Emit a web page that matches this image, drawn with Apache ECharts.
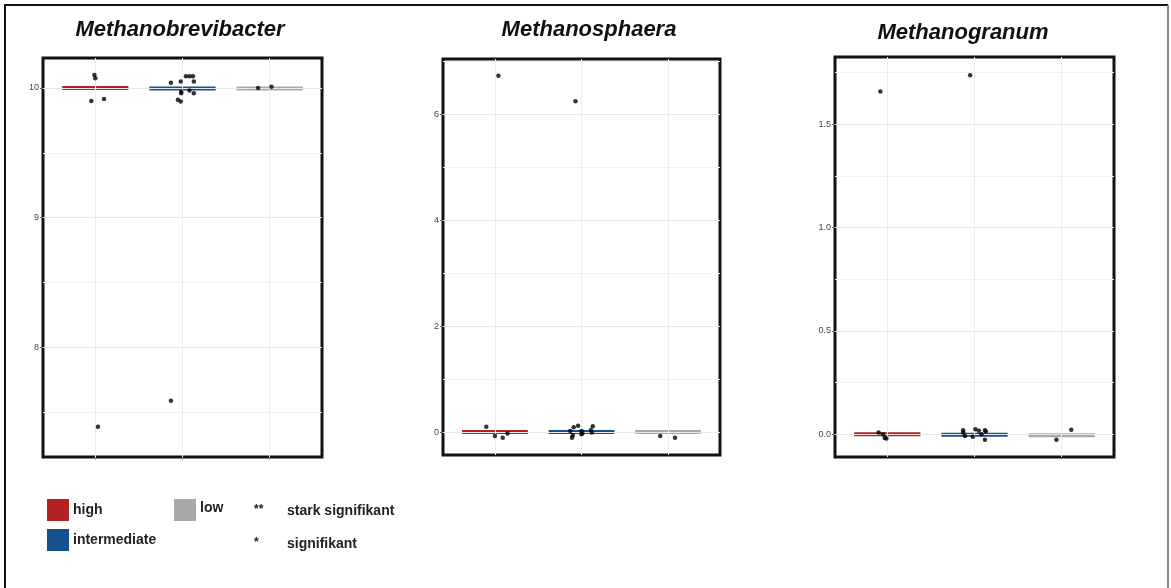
<!DOCTYPE html>
<html>
<head>
<meta charset="utf-8">
<script src="https://cdn.jsdelivr.net/npm/echarts@6/dist/echarts.min.js"></script>
<style>
  html, body { margin: 0; padding: 0; background: #fff; }
  #chart { width: 1171px; height: 588px; }
</style>
</head>
<body>
<div id="chart"></div>
<script>
// Groups and their colours
const groups = ['high', 'intermediate', 'low'];
const groupColors = ['#B22222', '#17508F', '#A9A9A9'];
const genera = ['Methanobrevibacter', 'Methanosphaera', 'Methanogranum'];

// Methanobrevibacter: [jittered group position, value]
const brevibacterHigh = [[0.99, 10.10], [1.0, 10.075], [0.954, 9.90], [1.10, 9.915], [1.03, 7.39]];
const brevibacterIntermediate = [[1.867, 10.04], [1.98, 10.05], [2.04, 10.09], [2.08, 10.09], [2.12, 10.09], [2.13, 10.05],
  [1.985, 9.97], [1.985, 9.96], [2.08, 9.98], [2.13, 9.96], [1.947, 9.91], [1.98, 9.895], [1.867, 7.59]];
const brevibacterLow = [[2.867, 10.0], [3.02, 10.01]];
const brevibacterMedian = [10.0, 9.995, 9.995];
const brevibacterTicks = [8, 9, 10];
const brevibacterMinor = [7.5, 8.5, 9.5];

// Methanosphaera
const sphaeraHigh = [[1.04, 6.73], [0.90, 0.10], [1.0, -0.075], [1.09, -0.11], [1.145, -0.03]];
const sphaeraIntermediate = [[1.93, 6.245], [1.87, 0.02], [1.91, 0.09], [1.96, 0.12], [1.89, -0.11], [1.90, -0.06],
  [2.0, 0.02], [2.01, -0.025], [2.0, -0.04], [2.11, 0.04], [2.13, 0.11], [2.12, -0.01]];
const sphaeraLow = [[2.91, -0.075], [3.08, -0.11]];
const sphaeraMedian = [0, 0, 0];
const sphaeraTicks = [0, 2, 4, 6];
const sphaeraMinor = [1, 3, 5, 7];

// Methanogranum
const granumHigh = [[0.92, 1.659], [0.90, 0.008], [0.95, 0.0], [0.97, -0.018], [0.99, -0.02]];
const granumIntermediate = [[1.95, 1.738], [1.87, 0.02], [1.87, 0.008], [1.89, -0.008], [1.98, -0.012], [2.01, 0.024],
  [2.05, 0.017], [2.08, 0.0], [2.12, 0.02], [2.13, 0.013], [2.12, -0.026]];
const granumLow = [[3.11, 0.022], [2.94, -0.026]];
const granumMedian = [0.0, -0.002, -0.005];
const granumTicks = [0, 0.5, 1.0, 1.5];
const granumMinor = [0.25, 0.75, 1.25, 1.75];

const panels = [
  { title: genera[0], points: [brevibacterHigh, brevibacterIntermediate, brevibacterLow], median: brevibacterMedian,
    ticks: brevibacterTicks, minor: brevibacterMinor, yMin: 7.156, yMax: 10.231, digits: 0,
    box: { left: 43, top: 58, width: 279, height: 399 }, titleX: 180, titleY: 30 },
  { title: genera[1], points: [sphaeraHigh, sphaeraIntermediate, sphaeraLow], median: sphaeraMedian,
    ticks: sphaeraTicks, minor: sphaeraMinor, yMin: -0.434, yMax: 7.044, digits: 0,
    box: { left: 443, top: 59, width: 277, height: 396 }, titleX: 589, titleY: 30 },
  { title: genera[2], points: [granumHigh, granumIntermediate, granumLow], median: granumMedian,
    ticks: granumTicks, minor: granumMinor, yMin: -0.110, yMax: 1.826, digits: 1,
    box: { left: 835, top: 57, width: 279, height: 400 }, titleX: 963, titleY: 33 }
];

const groupPos = [1, 2, 3];
const halfBar = 0.38;

const grid = [], xAxis = [], yAxis = [], series = [], graphic = [];

panels.forEach((p, k) => {
  grid.push(Object.assign({ show: true, borderColor: '#111', borderWidth: 3, backgroundColor: 'transparent' }, p.box));
  xAxis.push({
    gridIndex: k, type: 'value', min: 0.4, max: 3.6,
    axisLine: { show: false },
    axisLabel: { show: false },
    axisTick: { show: true, customValues: groupPos, length: 3, lineStyle: { color: '#999' } },
    splitLine: { show: false }
  });
  yAxis.push({
    gridIndex: k, type: 'value', min: p.yMin, max: p.yMax,
    axisLine: { show: false },
    axisTick: { show: true, customValues: p.ticks, length: 3, lineStyle: { color: '#666' } },
    axisLabel: { show: true, customValues: p.ticks, fontSize: 9, color: '#444', margin: 4,
      fontFamily: 'Liberation Sans, Arial, sans-serif',
      formatter: v => Number(v).toFixed(p.digits) },
    splitLine: { show: false }
  });

  // Panel grid lines (major, minor and one per group)
  const gridLines = []
    .concat(p.minor.filter(v => v > p.yMin && v < p.yMax).map(v => ({ yAxis: v, lineStyle: { color: '#f2f2f2' } })))
    .concat(p.ticks.map(v => ({ yAxis: v, lineStyle: { color: '#e8e8e8' } })))
    .concat(groupPos.map(v => ({ xAxis: v, lineStyle: { color: '#ececec' } })));

  series.push({
    type: 'scatter', xAxisIndex: k, yAxisIndex: k, z: 1, data: [], silent: true, animation: false,
    markLine: { silent: true, symbol: 'none', label: { show: false }, animation: false,
      lineStyle: { type: 'solid', width: 1 }, data: gridLines }
  });

  // Median bars, one short horizontal segment per group
  p.median.forEach((v, i) => {
    series.push({
      type: 'line', xAxisIndex: k, yAxisIndex: k, z: 3,
      data: [[groupPos[i] - halfBar, v], [groupPos[i] + halfBar, v]],
      symbol: 'none', lineStyle: { color: groupColors[i], width: 4, cap: 'butt' },
      silent: true, animation: false
    });
  });

  p.points.forEach((pts, i) => {
    series.push({
      type: 'scatter', name: groups[i], xAxisIndex: k, yAxisIndex: k, z: 5,
      data: pts, symbolSize: 4.5, itemStyle: { color: '#000' }, silent: true, animation: false
    });
  });

  graphic.push({
    type: 'text', x: p.titleX, y: p.titleY, z: 10,
    style: { text: p.title, font: 'italic bold 22px "Liberation Sans", Arial, sans-serif', fill: '#111',
      align: 'center', verticalAlign: 'middle' }
  });
});

// Legend of groups
const legendPos = [[47, 499], [47, 529], [174, 499]];
groups.forEach((g, i) => {
  const [x, y] = legendPos[i];
  graphic.push({ type: 'rect', shape: { x: x, y: y, width: 22, height: 22 }, style: { fill: groupColors[i] } });
  graphic.push({ type: 'text', x: x + 26, y: y + (i === 2 ? 9 : 11),
    style: { text: g, font: 'bold 14px "Liberation Sans", Arial, sans-serif', fill: '#222', verticalAlign: 'middle' } });
});

// Significance key
const sigMarks = ['**', '*'];
const sigText = ['stark signifikant', 'signifikant'];
sigMarks.forEach((m, i) => {
  const y = 511 + i * 33;
  graphic.push({ type: 'text', x: 254, y: y - 1,
    style: { text: m, font: 'bold 12px "Liberation Sans", Arial, sans-serif', fill: '#222', verticalAlign: 'middle' } });
  graphic.push({ type: 'text', x: 287, y: y,
    style: { text: sigText[i], font: 'bold 14px "Liberation Sans", Arial, sans-serif', fill: '#222', verticalAlign: 'middle' } });
});

// Outer frame
graphic.push({ type: 'polyline', shape: { points: [[5, 588], [5, 5], [1168, 5]] },
  style: { stroke: '#111', lineWidth: 2, fill: null } });
graphic.push({ type: 'line', shape: { x1: 1168, y1: 5, x2: 1168, y2: 588 },
  style: { stroke: '#888', lineWidth: 2 } });

const chart = echarts.init(document.getElementById('chart'), null, { renderer: 'canvas' });
chart.setOption({
  backgroundColor: '#fff',
  animation: false,
  grid, xAxis, yAxis, series, graphic
});
</script>
</body>
</html>
